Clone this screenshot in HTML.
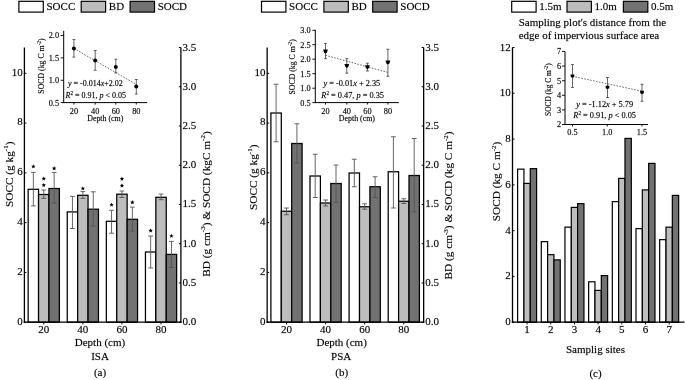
<!DOCTYPE html>
<html><head><meta charset="utf-8"><style>
html,body{margin:0;padding:0;background:#fff;width:685px;height:380px;overflow:hidden}
svg{display:block;filter:grayscale(1) blur(0.35px)}
text{fill:#000;font-family:"Liberation Serif",serif;stroke:#000;stroke-width:0.3px;stroke-opacity:0.45}
</style></head><body>
<svg width="685" height="380" viewBox="0 0 685 380">
<rect width="685" height="380" fill="#fff"/>
<rect x="18.90" y="1.30" width="24.40" height="10.80" fill="#fff" stroke="#000" stroke-width="1.2"/>
<text x="46.50" y="10.10" font-size="11" text-anchor="start" >SOCC</text>
<rect x="81.20" y="1.30" width="24.40" height="10.80" fill="#bdbdbd" stroke="#000" stroke-width="1.2"/>
<text x="108.80" y="10.10" font-size="11" text-anchor="start" >BD</text>
<rect x="130.10" y="1.30" width="24.40" height="10.80" fill="#727272" stroke="#000" stroke-width="1.2"/>
<text x="157.70" y="10.10" font-size="11" text-anchor="start" >SOCD</text>
<rect x="261.50" y="1.30" width="24.40" height="10.80" fill="#fff" stroke="#000" stroke-width="1.2"/>
<text x="289.10" y="10.10" font-size="11" text-anchor="start" >SOCC</text>
<rect x="323.90" y="1.30" width="24.40" height="10.80" fill="#bdbdbd" stroke="#000" stroke-width="1.2"/>
<text x="351.50" y="10.10" font-size="11" text-anchor="start" >BD</text>
<rect x="372.70" y="1.30" width="24.40" height="10.80" fill="#727272" stroke="#000" stroke-width="1.2"/>
<text x="400.30" y="10.10" font-size="11" text-anchor="start" >SOCD</text>
<rect x="28.15" y="189.30" width="10.40" height="132.90" fill="#fff" stroke="#000" stroke-width="1.25"/>
<rect x="38.55" y="194.50" width="10.40" height="127.70" fill="#bdbdbd" stroke="#000" stroke-width="1.25"/>
<rect x="48.95" y="188.50" width="10.40" height="133.70" fill="#727272" stroke="#000" stroke-width="1.25"/>
<rect x="67.25" y="211.90" width="10.40" height="110.30" fill="#fff" stroke="#000" stroke-width="1.25"/>
<rect x="77.65" y="195.30" width="10.40" height="126.90" fill="#bdbdbd" stroke="#000" stroke-width="1.25"/>
<rect x="88.05" y="209.20" width="10.40" height="113.00" fill="#727272" stroke="#000" stroke-width="1.25"/>
<rect x="106.35" y="221.30" width="10.40" height="100.90" fill="#fff" stroke="#000" stroke-width="1.25"/>
<rect x="116.75" y="194.20" width="10.40" height="128.00" fill="#bdbdbd" stroke="#000" stroke-width="1.25"/>
<rect x="127.15" y="219.30" width="10.40" height="102.90" fill="#727272" stroke="#000" stroke-width="1.25"/>
<rect x="145.45" y="252.00" width="10.40" height="70.20" fill="#fff" stroke="#000" stroke-width="1.25"/>
<rect x="155.85" y="197.30" width="10.40" height="124.90" fill="#bdbdbd" stroke="#000" stroke-width="1.25"/>
<rect x="166.25" y="254.40" width="10.40" height="67.80" fill="#727272" stroke="#000" stroke-width="1.25"/>
<line x1="33.35" y1="172.40" x2="33.35" y2="205.90" stroke="#555" stroke-width="0.9" />
<line x1="30.95" y1="172.40" x2="35.75" y2="172.40" stroke="#555" stroke-width="0.9" />
<line x1="30.95" y1="205.90" x2="35.75" y2="205.90" stroke="#555" stroke-width="0.9" />
<line x1="43.75" y1="190.00" x2="43.75" y2="198.40" stroke="#555" stroke-width="0.9" />
<line x1="41.35" y1="190.00" x2="46.15" y2="190.00" stroke="#555" stroke-width="0.9" />
<line x1="41.35" y1="198.40" x2="46.15" y2="198.40" stroke="#555" stroke-width="0.9" />
<line x1="54.15" y1="172.40" x2="54.15" y2="203.20" stroke="#555" stroke-width="0.9" />
<line x1="51.75" y1="172.40" x2="56.55" y2="172.40" stroke="#555" stroke-width="0.9" />
<line x1="51.75" y1="203.20" x2="56.55" y2="203.20" stroke="#555" stroke-width="0.9" />
<line x1="72.45" y1="196.40" x2="72.45" y2="228.50" stroke="#555" stroke-width="0.9" />
<line x1="70.05" y1="196.40" x2="74.85" y2="196.40" stroke="#555" stroke-width="0.9" />
<line x1="70.05" y1="228.50" x2="74.85" y2="228.50" stroke="#555" stroke-width="0.9" />
<line x1="82.85" y1="191.60" x2="82.85" y2="198.40" stroke="#555" stroke-width="0.9" />
<line x1="80.45" y1="191.60" x2="85.25" y2="191.60" stroke="#555" stroke-width="0.9" />
<line x1="80.45" y1="198.40" x2="85.25" y2="198.40" stroke="#555" stroke-width="0.9" />
<line x1="93.25" y1="191.80" x2="93.25" y2="226.10" stroke="#555" stroke-width="0.9" />
<line x1="90.85" y1="191.80" x2="95.65" y2="191.80" stroke="#555" stroke-width="0.9" />
<line x1="90.85" y1="226.10" x2="95.65" y2="226.10" stroke="#555" stroke-width="0.9" />
<line x1="111.55" y1="210.30" x2="111.55" y2="233.20" stroke="#555" stroke-width="0.9" />
<line x1="109.15" y1="210.30" x2="113.95" y2="210.30" stroke="#555" stroke-width="0.9" />
<line x1="109.15" y1="233.20" x2="113.95" y2="233.20" stroke="#555" stroke-width="0.9" />
<line x1="121.95" y1="191.00" x2="121.95" y2="197.50" stroke="#555" stroke-width="0.9" />
<line x1="119.55" y1="191.00" x2="124.35" y2="191.00" stroke="#555" stroke-width="0.9" />
<line x1="119.55" y1="197.50" x2="124.35" y2="197.50" stroke="#555" stroke-width="0.9" />
<line x1="132.35" y1="207.10" x2="132.35" y2="231.00" stroke="#555" stroke-width="0.9" />
<line x1="129.95" y1="207.10" x2="134.75" y2="207.10" stroke="#555" stroke-width="0.9" />
<line x1="129.95" y1="231.00" x2="134.75" y2="231.00" stroke="#555" stroke-width="0.9" />
<line x1="150.65" y1="236.00" x2="150.65" y2="268.00" stroke="#555" stroke-width="0.9" />
<line x1="148.25" y1="236.00" x2="153.05" y2="236.00" stroke="#555" stroke-width="0.9" />
<line x1="148.25" y1="268.00" x2="153.05" y2="268.00" stroke="#555" stroke-width="0.9" />
<line x1="161.05" y1="194.00" x2="161.05" y2="199.70" stroke="#555" stroke-width="0.9" />
<line x1="158.65" y1="194.00" x2="163.45" y2="194.00" stroke="#555" stroke-width="0.9" />
<line x1="158.65" y1="199.70" x2="163.45" y2="199.70" stroke="#555" stroke-width="0.9" />
<line x1="171.45" y1="241.40" x2="171.45" y2="267.50" stroke="#555" stroke-width="0.9" />
<line x1="169.05" y1="241.40" x2="173.85" y2="241.40" stroke="#555" stroke-width="0.9" />
<line x1="169.05" y1="267.50" x2="173.85" y2="267.50" stroke="#555" stroke-width="0.9" />
<polygon points="33.35,164.20 33.96,165.66 35.54,165.79 34.33,166.82 34.70,168.36 33.35,167.53 32.00,168.36 32.37,166.82 31.16,165.79 32.74,165.66" fill="#000"/>
<polygon points="43.75,176.40 44.36,177.86 45.94,177.99 44.73,179.02 45.10,180.56 43.75,179.73 42.40,180.56 42.77,179.02 41.56,177.99 43.14,177.86" fill="#000"/>
<polygon points="43.75,182.90 44.36,184.36 45.94,184.49 44.73,185.52 45.10,187.06 43.75,186.23 42.40,187.06 42.77,185.52 41.56,184.49 43.14,184.36" fill="#000"/>
<polygon points="54.15,166.10 54.76,167.56 56.34,167.69 55.13,168.72 55.50,170.26 54.15,169.44 52.80,170.26 53.17,168.72 51.96,167.69 53.54,167.56" fill="#000"/>
<polygon points="82.85,186.20 83.46,187.66 85.04,187.79 83.83,188.82 84.20,190.36 82.85,189.53 81.50,190.36 81.87,188.82 80.66,187.79 82.24,187.66" fill="#000"/>
<polygon points="111.55,202.50 112.16,203.96 113.74,204.09 112.53,205.12 112.90,206.66 111.55,205.84 110.20,206.66 110.57,205.12 109.36,204.09 110.94,203.96" fill="#000"/>
<polygon points="121.95,176.60 122.56,178.06 124.14,178.19 122.93,179.22 123.30,180.76 121.95,179.94 120.60,180.76 120.97,179.22 119.76,178.19 121.34,178.06" fill="#000"/>
<polygon points="121.95,183.30 122.56,184.76 124.14,184.89 122.93,185.92 123.30,187.46 121.95,186.63 120.60,187.46 120.97,185.92 119.76,184.89 121.34,184.76" fill="#000"/>
<polygon points="132.35,200.10 132.96,201.56 134.54,201.69 133.33,202.72 133.70,204.26 132.35,203.44 131.00,204.26 131.37,202.72 130.16,201.69 131.74,201.56" fill="#000"/>
<polygon points="150.65,228.40 151.26,229.86 152.84,229.99 151.63,231.02 152.00,232.56 150.65,231.73 149.30,232.56 149.67,231.02 148.46,229.99 150.04,229.86" fill="#000"/>
<polygon points="171.45,233.70 172.06,235.16 173.64,235.29 172.43,236.32 172.80,237.86 171.45,237.03 170.10,237.86 170.47,236.32 169.26,235.29 170.84,235.16" fill="#000"/>
<line x1="24.40" y1="47.50" x2="24.40" y2="322.90" stroke="#000" stroke-width="1.3" />
<line x1="23.80" y1="322.20" x2="181.50" y2="322.20" stroke="#000" stroke-width="1.3" />
<line x1="180.90" y1="47.50" x2="180.90" y2="322.90" stroke="#000" stroke-width="1.3" />
<line x1="24.40" y1="322.20" x2="26.40" y2="322.20" stroke="#000" stroke-width="1" />
<text x="22.80" y="325.20" font-size="11" text-anchor="end" >0</text>
<line x1="24.40" y1="272.42" x2="26.40" y2="272.42" stroke="#000" stroke-width="1" />
<text x="22.80" y="275.26" font-size="11" text-anchor="end" >2</text>
<line x1="24.40" y1="222.64" x2="26.40" y2="222.64" stroke="#000" stroke-width="1" />
<text x="22.80" y="225.32" font-size="11" text-anchor="end" >4</text>
<line x1="24.40" y1="172.86" x2="26.40" y2="172.86" stroke="#000" stroke-width="1" />
<text x="22.80" y="175.38" font-size="11" text-anchor="end" >6</text>
<line x1="24.40" y1="123.08" x2="26.40" y2="123.08" stroke="#000" stroke-width="1" />
<text x="22.80" y="125.44" font-size="11" text-anchor="end" >8</text>
<line x1="24.40" y1="73.30" x2="26.40" y2="73.30" stroke="#000" stroke-width="1" />
<text x="22.80" y="75.50" font-size="11" text-anchor="end" >10</text>
<line x1="178.90" y1="322.20" x2="180.90" y2="322.20" stroke="#000" stroke-width="1" />
<text x="182.50" y="325.20" font-size="11" text-anchor="start" >0.0</text>
<line x1="178.90" y1="282.96" x2="180.90" y2="282.96" stroke="#000" stroke-width="1" />
<text x="182.50" y="285.96" font-size="11" text-anchor="start" >0.5</text>
<line x1="178.90" y1="243.71" x2="180.90" y2="243.71" stroke="#000" stroke-width="1" />
<text x="182.50" y="246.71" font-size="11" text-anchor="start" >1.0</text>
<line x1="178.90" y1="204.47" x2="180.90" y2="204.47" stroke="#000" stroke-width="1" />
<text x="182.50" y="207.47" font-size="11" text-anchor="start" >1.5</text>
<line x1="178.90" y1="165.23" x2="180.90" y2="165.23" stroke="#000" stroke-width="1" />
<text x="182.50" y="168.23" font-size="11" text-anchor="start" >2.0</text>
<line x1="178.90" y1="125.99" x2="180.90" y2="125.99" stroke="#000" stroke-width="1" />
<text x="182.50" y="128.99" font-size="11" text-anchor="start" >2.5</text>
<line x1="178.90" y1="86.74" x2="180.90" y2="86.74" stroke="#000" stroke-width="1" />
<text x="182.50" y="89.74" font-size="11" text-anchor="start" >3.0</text>
<line x1="178.90" y1="47.50" x2="180.90" y2="47.50" stroke="#000" stroke-width="1" />
<text x="182.50" y="50.50" font-size="11" text-anchor="start" >3.5</text>
<line x1="43.75" y1="322.20" x2="43.75" y2="324.40" stroke="#000" stroke-width="1" />
<text x="43.75" y="333.20" font-size="11" text-anchor="middle" >20</text>
<line x1="82.85" y1="322.20" x2="82.85" y2="324.40" stroke="#000" stroke-width="1" />
<text x="82.85" y="333.20" font-size="11" text-anchor="middle" >40</text>
<line x1="121.95" y1="322.20" x2="121.95" y2="324.40" stroke="#000" stroke-width="1" />
<text x="121.95" y="333.20" font-size="11" text-anchor="middle" >60</text>
<line x1="161.05" y1="322.20" x2="161.05" y2="324.40" stroke="#000" stroke-width="1" />
<text x="161.05" y="333.20" font-size="11" text-anchor="middle" >80</text>
<text x="100.00" y="346.00" font-size="11" text-anchor="middle" >Depth (cm)</text>
<text x="100.00" y="359.70" font-size="11" text-anchor="middle" >ISA</text>
<text x="100.00" y="376.20" font-size="11" text-anchor="middle" >(a)</text>
<text transform="translate(9.00,174.30) rotate(-90)" x="0" y="3.9" font-size="11.3" text-anchor="middle">SOCC (g kg<tspan dy="-4.5" font-size="7">-1</tspan><tspan dy="4.5">)</tspan></text>
<text transform="translate(205.8,204.0) rotate(-90)" x="0" y="3.9" font-size="11.3" text-anchor="middle">BD (g cm<tspan dy="-4.5" font-size="7">-3</tspan><tspan dy="4.5">) &amp; SOCD (kgC m</tspan><tspan dy="-4.5" font-size="7">-2</tspan><tspan dy="4.5">)</tspan></text>

<line x1="63.70" y1="35.00" x2="63.70" y2="103.10" stroke="#000" stroke-width="1" />
<line x1="63.70" y1="102.60" x2="147.20" y2="102.60" stroke="#000" stroke-width="1" />
<line x1="60.70" y1="102.60" x2="63.70" y2="102.60" stroke="#000" stroke-width="0.9" />
<text x="59.10" y="105.50" font-size="8.3" text-anchor="end" >0.5</text>
<line x1="60.70" y1="80.30" x2="63.70" y2="80.30" stroke="#000" stroke-width="0.9" />
<text x="59.10" y="83.20" font-size="8.3" text-anchor="end" >1.0</text>
<line x1="60.70" y1="57.90" x2="63.70" y2="57.90" stroke="#000" stroke-width="0.9" />
<text x="59.10" y="60.80" font-size="8.3" text-anchor="end" >1.5</text>
<line x1="60.70" y1="35.50" x2="63.70" y2="35.50" stroke="#000" stroke-width="0.9" />
<text x="59.10" y="38.40" font-size="8.3" text-anchor="end" >2.0</text>
<line x1="73.90" y1="102.60" x2="73.90" y2="104.60" stroke="#000" stroke-width="0.9" />
<text x="73.90" y="113.80" font-size="8.3" text-anchor="middle" >20</text>
<line x1="95.20" y1="102.60" x2="95.20" y2="104.60" stroke="#000" stroke-width="0.9" />
<text x="95.20" y="113.80" font-size="8.3" text-anchor="middle" >40</text>
<line x1="115.80" y1="102.60" x2="115.80" y2="104.60" stroke="#000" stroke-width="0.9" />
<text x="115.80" y="113.80" font-size="8.3" text-anchor="middle" >60</text>
<line x1="136.30" y1="102.60" x2="136.30" y2="104.60" stroke="#000" stroke-width="0.9" />
<text x="136.30" y="113.80" font-size="8.3" text-anchor="middle" >80</text>
<text x="105.30" y="120.90" font-size="7.9" text-anchor="middle" >Depth (cm)</text>
<line x1="73.90" y1="48.40" x2="136.30" y2="84.40" stroke="#444" stroke-width="0.8" stroke-dasharray="1.6,1.4"/>
<line x1="73.90" y1="39.50" x2="73.90" y2="57.10" stroke="#333" stroke-width="0.75" />
<line x1="72.45" y1="39.50" x2="75.35" y2="39.50" stroke="#333" stroke-width="0.75" />
<line x1="72.45" y1="57.10" x2="75.35" y2="57.10" stroke="#333" stroke-width="0.75" />
<circle cx="73.90" cy="48.50" r="2.0" fill="#000"/>
<line x1="95.20" y1="50.50" x2="95.20" y2="70.30" stroke="#333" stroke-width="0.75" />
<line x1="93.75" y1="50.50" x2="96.65" y2="50.50" stroke="#333" stroke-width="0.75" />
<line x1="93.75" y1="70.30" x2="96.65" y2="70.30" stroke="#333" stroke-width="0.75" />
<circle cx="95.20" cy="60.60" r="2.0" fill="#000"/>
<line x1="115.80" y1="59.20" x2="115.80" y2="72.90" stroke="#333" stroke-width="0.75" />
<line x1="114.35" y1="59.20" x2="117.25" y2="59.20" stroke="#333" stroke-width="0.75" />
<line x1="114.35" y1="72.90" x2="117.25" y2="72.90" stroke="#333" stroke-width="0.75" />
<circle cx="115.80" cy="66.90" r="2.0" fill="#000"/>
<line x1="136.30" y1="79.50" x2="136.30" y2="94.00" stroke="#333" stroke-width="0.75" />
<line x1="134.85" y1="79.50" x2="137.75" y2="79.50" stroke="#333" stroke-width="0.75" />
<line x1="134.85" y1="94.00" x2="137.75" y2="94.00" stroke="#333" stroke-width="0.75" />
<circle cx="136.30" cy="86.50" r="2.0" fill="#000"/>
<text x="68.0" y="86.2" font-size="8.0"><tspan font-style="italic">y</tspan> = -0.014<tspan font-style="italic">x</tspan>+2.02</text>
<text x="65.5" y="98.3" font-size="8.0"><tspan font-style="italic">R</tspan><tspan dy="-3" font-size="5.2">2</tspan><tspan dy="3"> = 0.91, </tspan><tspan font-style="italic">p</tspan> &lt; 0.05</text>
<text transform="translate(41.50,66.00) rotate(-90)" x="0" y="2.8" font-size="7.8" text-anchor="middle">SOCD (kg C m<tspan dy="-3.2" font-size="5.3">-2</tspan><tspan dy="3.2">)</tspan></text>
<line x1="63.70" y1="30.80" x2="63.70" y2="35.50" stroke="#000" stroke-width="1" />
<rect x="270.90" y="113.00" width="10.40" height="209.20" fill="#fff" stroke="#000" stroke-width="1.25"/>
<rect x="281.30" y="211.25" width="10.40" height="110.95" fill="#bdbdbd" stroke="#000" stroke-width="1.25"/>
<rect x="291.70" y="143.50" width="10.40" height="178.70" fill="#727272" stroke="#000" stroke-width="1.25"/>
<rect x="310.00" y="176.00" width="10.40" height="146.20" fill="#fff" stroke="#000" stroke-width="1.25"/>
<rect x="320.40" y="203.00" width="10.40" height="119.20" fill="#bdbdbd" stroke="#000" stroke-width="1.25"/>
<rect x="330.80" y="183.50" width="10.40" height="138.70" fill="#727272" stroke="#000" stroke-width="1.25"/>
<rect x="349.10" y="173.00" width="10.40" height="149.20" fill="#fff" stroke="#000" stroke-width="1.25"/>
<rect x="359.50" y="206.75" width="10.40" height="115.45" fill="#bdbdbd" stroke="#000" stroke-width="1.25"/>
<rect x="369.90" y="186.75" width="10.40" height="135.45" fill="#727272" stroke="#000" stroke-width="1.25"/>
<rect x="388.20" y="171.75" width="10.40" height="150.45" fill="#fff" stroke="#000" stroke-width="1.25"/>
<rect x="398.60" y="201.25" width="10.40" height="120.95" fill="#bdbdbd" stroke="#000" stroke-width="1.25"/>
<rect x="409.00" y="175.50" width="10.40" height="146.70" fill="#727272" stroke="#000" stroke-width="1.25"/>
<line x1="276.10" y1="84.25" x2="276.10" y2="141.75" stroke="#555" stroke-width="0.9" />
<line x1="273.70" y1="84.25" x2="278.50" y2="84.25" stroke="#555" stroke-width="0.9" />
<line x1="273.70" y1="141.75" x2="278.50" y2="141.75" stroke="#555" stroke-width="0.9" />
<line x1="286.50" y1="208.00" x2="286.50" y2="214.75" stroke="#555" stroke-width="0.9" />
<line x1="284.10" y1="208.00" x2="288.90" y2="208.00" stroke="#555" stroke-width="0.9" />
<line x1="284.10" y1="214.75" x2="288.90" y2="214.75" stroke="#555" stroke-width="0.9" />
<line x1="296.90" y1="123.75" x2="296.90" y2="163.00" stroke="#555" stroke-width="0.9" />
<line x1="294.50" y1="123.75" x2="299.30" y2="123.75" stroke="#555" stroke-width="0.9" />
<line x1="294.50" y1="163.00" x2="299.30" y2="163.00" stroke="#555" stroke-width="0.9" />
<line x1="315.20" y1="154.25" x2="315.20" y2="197.50" stroke="#555" stroke-width="0.9" />
<line x1="312.80" y1="154.25" x2="317.60" y2="154.25" stroke="#555" stroke-width="0.9" />
<line x1="312.80" y1="197.50" x2="317.60" y2="197.50" stroke="#555" stroke-width="0.9" />
<line x1="325.60" y1="200.00" x2="325.60" y2="206.00" stroke="#555" stroke-width="0.9" />
<line x1="323.20" y1="200.00" x2="328.00" y2="200.00" stroke="#555" stroke-width="0.9" />
<line x1="323.20" y1="206.00" x2="328.00" y2="206.00" stroke="#555" stroke-width="0.9" />
<line x1="336.00" y1="165.00" x2="336.00" y2="202.25" stroke="#555" stroke-width="0.9" />
<line x1="333.60" y1="165.00" x2="338.40" y2="165.00" stroke="#555" stroke-width="0.9" />
<line x1="333.60" y1="202.25" x2="338.40" y2="202.25" stroke="#555" stroke-width="0.9" />
<line x1="354.30" y1="159.25" x2="354.30" y2="186.75" stroke="#555" stroke-width="0.9" />
<line x1="351.90" y1="159.25" x2="356.70" y2="159.25" stroke="#555" stroke-width="0.9" />
<line x1="351.90" y1="186.75" x2="356.70" y2="186.75" stroke="#555" stroke-width="0.9" />
<line x1="364.70" y1="203.75" x2="364.70" y2="209.25" stroke="#555" stroke-width="0.9" />
<line x1="362.30" y1="203.75" x2="367.10" y2="203.75" stroke="#555" stroke-width="0.9" />
<line x1="362.30" y1="209.25" x2="367.10" y2="209.25" stroke="#555" stroke-width="0.9" />
<line x1="375.10" y1="176.75" x2="375.10" y2="197.50" stroke="#555" stroke-width="0.9" />
<line x1="372.70" y1="176.75" x2="377.50" y2="176.75" stroke="#555" stroke-width="0.9" />
<line x1="372.70" y1="197.50" x2="377.50" y2="197.50" stroke="#555" stroke-width="0.9" />
<line x1="393.40" y1="136.75" x2="393.40" y2="208.00" stroke="#555" stroke-width="0.9" />
<line x1="391.00" y1="136.75" x2="395.80" y2="136.75" stroke="#555" stroke-width="0.9" />
<line x1="391.00" y1="208.00" x2="395.80" y2="208.00" stroke="#555" stroke-width="0.9" />
<line x1="403.80" y1="198.75" x2="403.80" y2="203.50" stroke="#555" stroke-width="0.9" />
<line x1="401.40" y1="198.75" x2="406.20" y2="198.75" stroke="#555" stroke-width="0.9" />
<line x1="401.40" y1="203.50" x2="406.20" y2="203.50" stroke="#555" stroke-width="0.9" />
<line x1="414.20" y1="138.50" x2="414.20" y2="211.75" stroke="#555" stroke-width="0.9" />
<line x1="411.80" y1="138.50" x2="416.60" y2="138.50" stroke="#555" stroke-width="0.9" />
<line x1="411.80" y1="211.75" x2="416.60" y2="211.75" stroke="#555" stroke-width="0.9" />
<line x1="267.15" y1="47.50" x2="267.15" y2="322.90" stroke="#000" stroke-width="1.3" />
<line x1="266.55" y1="322.20" x2="424.25" y2="322.20" stroke="#000" stroke-width="1.3" />
<line x1="423.65" y1="47.50" x2="423.65" y2="322.90" stroke="#000" stroke-width="1.3" />
<line x1="267.15" y1="322.20" x2="269.15" y2="322.20" stroke="#000" stroke-width="1" />
<text x="265.55" y="325.20" font-size="11" text-anchor="end" >0</text>
<line x1="267.15" y1="272.42" x2="269.15" y2="272.42" stroke="#000" stroke-width="1" />
<text x="265.55" y="275.26" font-size="11" text-anchor="end" >2</text>
<line x1="267.15" y1="222.64" x2="269.15" y2="222.64" stroke="#000" stroke-width="1" />
<text x="265.55" y="225.32" font-size="11" text-anchor="end" >4</text>
<line x1="267.15" y1="172.86" x2="269.15" y2="172.86" stroke="#000" stroke-width="1" />
<text x="265.55" y="175.38" font-size="11" text-anchor="end" >6</text>
<line x1="267.15" y1="123.08" x2="269.15" y2="123.08" stroke="#000" stroke-width="1" />
<text x="265.55" y="125.44" font-size="11" text-anchor="end" >8</text>
<line x1="267.15" y1="73.30" x2="269.15" y2="73.30" stroke="#000" stroke-width="1" />
<text x="265.55" y="75.50" font-size="11" text-anchor="end" >10</text>
<line x1="421.65" y1="322.20" x2="423.65" y2="322.20" stroke="#000" stroke-width="1" />
<text x="425.25" y="325.20" font-size="11" text-anchor="start" >0.0</text>
<line x1="421.65" y1="282.96" x2="423.65" y2="282.96" stroke="#000" stroke-width="1" />
<text x="425.25" y="285.96" font-size="11" text-anchor="start" >0.5</text>
<line x1="421.65" y1="243.71" x2="423.65" y2="243.71" stroke="#000" stroke-width="1" />
<text x="425.25" y="246.71" font-size="11" text-anchor="start" >1.0</text>
<line x1="421.65" y1="204.47" x2="423.65" y2="204.47" stroke="#000" stroke-width="1" />
<text x="425.25" y="207.47" font-size="11" text-anchor="start" >1.5</text>
<line x1="421.65" y1="165.23" x2="423.65" y2="165.23" stroke="#000" stroke-width="1" />
<text x="425.25" y="168.23" font-size="11" text-anchor="start" >2.0</text>
<line x1="421.65" y1="125.99" x2="423.65" y2="125.99" stroke="#000" stroke-width="1" />
<text x="425.25" y="128.99" font-size="11" text-anchor="start" >2.5</text>
<line x1="421.65" y1="86.74" x2="423.65" y2="86.74" stroke="#000" stroke-width="1" />
<text x="425.25" y="89.74" font-size="11" text-anchor="start" >3.0</text>
<line x1="421.65" y1="47.50" x2="423.65" y2="47.50" stroke="#000" stroke-width="1" />
<text x="425.25" y="50.50" font-size="11" text-anchor="start" >3.5</text>
<line x1="286.50" y1="322.20" x2="286.50" y2="324.40" stroke="#000" stroke-width="1" />
<text x="286.50" y="333.20" font-size="11" text-anchor="middle" >20</text>
<line x1="325.60" y1="322.20" x2="325.60" y2="324.40" stroke="#000" stroke-width="1" />
<text x="325.60" y="333.20" font-size="11" text-anchor="middle" >40</text>
<line x1="364.70" y1="322.20" x2="364.70" y2="324.40" stroke="#000" stroke-width="1" />
<text x="364.70" y="333.20" font-size="11" text-anchor="middle" >60</text>
<line x1="403.80" y1="322.20" x2="403.80" y2="324.40" stroke="#000" stroke-width="1" />
<text x="403.80" y="333.20" font-size="11" text-anchor="middle" >80</text>
<text x="341.65" y="346.00" font-size="11" text-anchor="middle" >Depth (cm)</text>
<text x="341.15" y="359.70" font-size="11" text-anchor="middle" >PSA</text>
<text x="341.75" y="376.20" font-size="11" text-anchor="middle" >(b)</text>
<text transform="translate(252.60,177.30) rotate(-90)" x="0" y="3.9" font-size="11.3" text-anchor="middle">SOCC (g kg<tspan dy="-4.5" font-size="7">-1</tspan><tspan dy="4.5">)</tspan></text>
<text transform="translate(448.3,205.5) rotate(-90)" x="0" y="3.9" font-size="11.3" text-anchor="middle">BD (g cm<tspan dy="-4.5" font-size="7">-3</tspan><tspan dy="4.5">) &amp; SOCD (kg C m</tspan><tspan dy="-4.5" font-size="7">-2</tspan><tspan dy="4.5">)</tspan></text>
<line x1="315.30" y1="29.80" x2="315.30" y2="103.10" stroke="#000" stroke-width="1" />
<line x1="315.30" y1="102.60" x2="398.80" y2="102.60" stroke="#000" stroke-width="1" />
<line x1="312.30" y1="102.60" x2="315.30" y2="102.60" stroke="#000" stroke-width="0.9" />
<text x="310.70" y="105.50" font-size="8.3" text-anchor="end" >0.5</text>
<line x1="312.30" y1="88.20" x2="315.30" y2="88.20" stroke="#000" stroke-width="0.9" />
<text x="310.70" y="91.10" font-size="8.3" text-anchor="end" >1.0</text>
<line x1="312.30" y1="73.70" x2="315.30" y2="73.70" stroke="#000" stroke-width="0.9" />
<text x="310.70" y="76.60" font-size="8.3" text-anchor="end" >1.5</text>
<line x1="312.30" y1="59.20" x2="315.30" y2="59.20" stroke="#000" stroke-width="0.9" />
<text x="310.70" y="62.10" font-size="8.3" text-anchor="end" >2.0</text>
<line x1="312.30" y1="44.70" x2="315.30" y2="44.70" stroke="#000" stroke-width="0.9" />
<text x="310.70" y="47.60" font-size="8.3" text-anchor="end" >2.5</text>
<line x1="312.30" y1="30.30" x2="315.30" y2="30.30" stroke="#000" stroke-width="0.9" />
<text x="310.70" y="33.20" font-size="8.3" text-anchor="end" >3.0</text>
<line x1="325.50" y1="102.60" x2="325.50" y2="104.60" stroke="#000" stroke-width="0.9" />
<text x="325.50" y="113.80" font-size="8.3" text-anchor="middle" >20</text>
<line x1="346.80" y1="102.60" x2="346.80" y2="104.60" stroke="#000" stroke-width="0.9" />
<text x="346.80" y="113.80" font-size="8.3" text-anchor="middle" >40</text>
<line x1="367.40" y1="102.60" x2="367.40" y2="104.60" stroke="#000" stroke-width="0.9" />
<text x="367.40" y="113.80" font-size="8.3" text-anchor="middle" >60</text>
<line x1="387.90" y1="102.60" x2="387.90" y2="104.60" stroke="#000" stroke-width="0.9" />
<text x="387.90" y="113.80" font-size="8.3" text-anchor="middle" >80</text>
<text x="356.90" y="120.90" font-size="7.9" text-anchor="middle" >Depth (cm)</text>
<line x1="325.50" y1="55.30" x2="387.90" y2="72.40" stroke="#444" stroke-width="0.8" stroke-dasharray="1.6,1.4"/>
<line x1="325.50" y1="43.40" x2="325.50" y2="58.70" stroke="#333" stroke-width="0.75" />
<line x1="324.05" y1="43.40" x2="326.95" y2="43.40" stroke="#333" stroke-width="0.75" />
<line x1="324.05" y1="58.70" x2="326.95" y2="58.70" stroke="#333" stroke-width="0.75" />
<path d="M323.10,49.50 L327.90,49.50 L327.00,52.30 L325.50,53.40 L324.00,52.30 Z" fill="#000"/>
<line x1="346.80" y1="58.70" x2="346.80" y2="73.20" stroke="#333" stroke-width="0.75" />
<line x1="345.35" y1="58.70" x2="348.25" y2="58.70" stroke="#333" stroke-width="0.75" />
<line x1="345.35" y1="73.20" x2="348.25" y2="73.20" stroke="#333" stroke-width="0.75" />
<path d="M344.40,64.00 L349.20,64.00 L348.30,66.80 L346.80,67.90 L345.30,66.80 Z" fill="#000"/>
<line x1="367.40" y1="63.20" x2="367.40" y2="71.00" stroke="#333" stroke-width="0.75" />
<line x1="365.95" y1="63.20" x2="368.85" y2="63.20" stroke="#333" stroke-width="0.75" />
<line x1="365.95" y1="71.00" x2="368.85" y2="71.00" stroke="#333" stroke-width="0.75" />
<path d="M365.00,65.30 L369.80,65.30 L368.90,68.10 L367.40,69.20 L365.90,68.10 Z" fill="#000"/>
<line x1="387.90" y1="49.20" x2="387.90" y2="76.30" stroke="#333" stroke-width="0.75" />
<line x1="386.45" y1="49.20" x2="389.35" y2="49.20" stroke="#333" stroke-width="0.75" />
<line x1="386.45" y1="76.30" x2="389.35" y2="76.30" stroke="#333" stroke-width="0.75" />
<path d="M385.50,60.60 L390.30,60.60 L389.40,63.40 L387.90,64.50 L386.40,63.40 Z" fill="#000"/>
<text x="323.4" y="85.7" font-size="8.3"><tspan font-style="italic">y</tspan> = -0.01<tspan font-style="italic">x</tspan> + 2.35</text>
<text x="321.3" y="98.3" font-size="8.3"><tspan font-style="italic">R</tspan><tspan dy="-3" font-size="5.2">2</tspan><tspan dy="3"> = 0.47, </tspan><tspan font-style="italic">p</tspan> = 0.35</text>
<text transform="translate(292.00,66.80) rotate(-90)" x="0" y="2.8" font-size="7.8" text-anchor="middle">SOCD (kg C m<tspan dy="-3.2" font-size="5.3">-2</tspan><tspan dy="3.2">)</tspan></text>
<rect x="511.70" y="1.30" width="24.40" height="10.80" fill="#fff" stroke="#000" stroke-width="1.2"/>
<text x="539.30" y="10.10" font-size="11" text-anchor="start" >1.5m</text>
<rect x="567.00" y="1.30" width="24.40" height="10.80" fill="#bdbdbd" stroke="#000" stroke-width="1.2"/>
<text x="594.60" y="10.10" font-size="11" text-anchor="start" >1.0m</text>
<rect x="623.40" y="1.30" width="24.40" height="10.80" fill="#727272" stroke="#000" stroke-width="1.2"/>
<text x="651.00" y="10.10" font-size="11" text-anchor="start" >0.5m</text>
<text x="518.70" y="26.20" font-size="11" text-anchor="start" >Sampling plot's distance from the</text>
<text x="518.70" y="38.80" font-size="11" text-anchor="start" >edge of impervious surface area</text>
<rect x="517.60" y="169.15" width="6.33" height="153.05" fill="#fff" stroke="#000" stroke-width="1.2"/>
<rect x="523.93" y="183.40" width="6.33" height="138.80" fill="#bdbdbd" stroke="#000" stroke-width="1.2"/>
<rect x="530.26" y="168.65" width="6.33" height="153.55" fill="#727272" stroke="#000" stroke-width="1.2"/>
<rect x="541.28" y="241.65" width="6.33" height="80.55" fill="#fff" stroke="#000" stroke-width="1.2"/>
<rect x="547.61" y="254.65" width="6.33" height="67.55" fill="#bdbdbd" stroke="#000" stroke-width="1.2"/>
<rect x="553.94" y="259.90" width="6.33" height="62.30" fill="#727272" stroke="#000" stroke-width="1.2"/>
<rect x="564.96" y="227.15" width="6.33" height="95.05" fill="#fff" stroke="#000" stroke-width="1.2"/>
<rect x="571.29" y="207.40" width="6.33" height="114.80" fill="#bdbdbd" stroke="#000" stroke-width="1.2"/>
<rect x="577.62" y="203.65" width="6.33" height="118.55" fill="#727272" stroke="#000" stroke-width="1.2"/>
<rect x="588.64" y="281.80" width="6.33" height="40.40" fill="#fff" stroke="#000" stroke-width="1.2"/>
<rect x="594.97" y="290.40" width="6.33" height="31.80" fill="#bdbdbd" stroke="#000" stroke-width="1.2"/>
<rect x="601.30" y="275.60" width="6.33" height="46.60" fill="#727272" stroke="#000" stroke-width="1.2"/>
<rect x="612.32" y="201.65" width="6.33" height="120.55" fill="#fff" stroke="#000" stroke-width="1.2"/>
<rect x="618.65" y="178.40" width="6.33" height="143.80" fill="#bdbdbd" stroke="#000" stroke-width="1.2"/>
<rect x="624.98" y="138.40" width="6.33" height="183.80" fill="#727272" stroke="#000" stroke-width="1.2"/>
<rect x="636.00" y="228.65" width="6.33" height="93.55" fill="#fff" stroke="#000" stroke-width="1.2"/>
<rect x="642.33" y="189.90" width="6.33" height="132.30" fill="#bdbdbd" stroke="#000" stroke-width="1.2"/>
<rect x="648.66" y="163.40" width="6.33" height="158.80" fill="#727272" stroke="#000" stroke-width="1.2"/>
<rect x="659.68" y="239.65" width="6.33" height="82.55" fill="#fff" stroke="#000" stroke-width="1.2"/>
<rect x="666.01" y="227.15" width="6.33" height="95.05" fill="#bdbdbd" stroke="#000" stroke-width="1.2"/>
<rect x="672.34" y="195.40" width="6.33" height="126.80" fill="#727272" stroke="#000" stroke-width="1.2"/>
<line x1="512.50" y1="47.50" x2="512.50" y2="322.90" stroke="#000" stroke-width="1.3" />
<line x1="511.90" y1="322.20" x2="684.50" y2="322.20" stroke="#000" stroke-width="1.3" />
<line x1="512.50" y1="322.20" x2="514.50" y2="322.20" stroke="#000" stroke-width="1" />
<text x="510.70" y="325.20" font-size="11" text-anchor="end" >0</text>
<line x1="512.50" y1="276.42" x2="514.50" y2="276.42" stroke="#000" stroke-width="1" />
<text x="510.70" y="279.42" font-size="11" text-anchor="end" >2</text>
<line x1="512.50" y1="230.63" x2="514.50" y2="230.63" stroke="#000" stroke-width="1" />
<text x="510.70" y="233.63" font-size="11" text-anchor="end" >4</text>
<line x1="512.50" y1="184.85" x2="514.50" y2="184.85" stroke="#000" stroke-width="1" />
<text x="510.70" y="187.85" font-size="11" text-anchor="end" >6</text>
<line x1="512.50" y1="139.07" x2="514.50" y2="139.07" stroke="#000" stroke-width="1" />
<text x="510.70" y="142.07" font-size="11" text-anchor="end" >8</text>
<line x1="512.50" y1="93.28" x2="514.50" y2="93.28" stroke="#000" stroke-width="1" />
<text x="510.70" y="96.28" font-size="11" text-anchor="end" >10</text>
<line x1="512.50" y1="47.50" x2="514.50" y2="47.50" stroke="#000" stroke-width="1" />
<text x="510.70" y="50.50" font-size="11" text-anchor="end" >12</text>
<line x1="527.10" y1="322.20" x2="527.10" y2="324.40" stroke="#000" stroke-width="1" />
<text x="527.10" y="332.50" font-size="11" text-anchor="middle" >1</text>
<line x1="550.77" y1="322.20" x2="550.77" y2="324.40" stroke="#000" stroke-width="1" />
<text x="550.77" y="332.50" font-size="11" text-anchor="middle" >2</text>
<line x1="574.46" y1="322.20" x2="574.46" y2="324.40" stroke="#000" stroke-width="1" />
<text x="574.46" y="332.50" font-size="11" text-anchor="middle" >3</text>
<line x1="598.13" y1="322.20" x2="598.13" y2="324.40" stroke="#000" stroke-width="1" />
<text x="598.13" y="332.50" font-size="11" text-anchor="middle" >4</text>
<line x1="621.82" y1="322.20" x2="621.82" y2="324.40" stroke="#000" stroke-width="1" />
<text x="621.82" y="332.50" font-size="11" text-anchor="middle" >5</text>
<line x1="645.50" y1="322.20" x2="645.50" y2="324.40" stroke="#000" stroke-width="1" />
<text x="645.50" y="332.50" font-size="11" text-anchor="middle" >6</text>
<line x1="669.18" y1="322.20" x2="669.18" y2="324.40" stroke="#000" stroke-width="1" />
<text x="669.18" y="332.50" font-size="11" text-anchor="middle" >7</text>
<text x="595.50" y="352.90" font-size="11" text-anchor="middle" >Samplig sites</text>
<text x="595.50" y="377.00" font-size="11" text-anchor="middle" >(c)</text>
<text transform="translate(496.3,181.5) rotate(-90)" x="0" y="3.9" font-size="11.3" text-anchor="middle">SOCD (kg C m<tspan dy="-4.5" font-size="7">-2</tspan><tspan dy="4.5">)</tspan></text>
<line x1="565.00" y1="51.25" x2="565.00" y2="125.00" stroke="#000" stroke-width="1" />
<line x1="565.00" y1="124.50" x2="648.00" y2="124.50" stroke="#000" stroke-width="1" />
<line x1="562.00" y1="124.50" x2="565.00" y2="124.50" stroke="#000" stroke-width="0.9" />
<text x="561.20" y="127.40" font-size="8.3" text-anchor="end" >2</text>
<line x1="562.00" y1="109.90" x2="565.00" y2="109.90" stroke="#000" stroke-width="0.9" />
<text x="561.20" y="112.80" font-size="8.3" text-anchor="end" >3</text>
<line x1="562.00" y1="95.30" x2="565.00" y2="95.30" stroke="#000" stroke-width="0.9" />
<text x="561.20" y="98.20" font-size="8.3" text-anchor="end" >4</text>
<line x1="562.00" y1="80.70" x2="565.00" y2="80.70" stroke="#000" stroke-width="0.9" />
<text x="561.20" y="83.60" font-size="8.3" text-anchor="end" >5</text>
<line x1="562.00" y1="66.10" x2="565.00" y2="66.10" stroke="#000" stroke-width="0.9" />
<text x="561.20" y="69.00" font-size="8.3" text-anchor="end" >6</text>
<line x1="562.00" y1="51.50" x2="565.00" y2="51.50" stroke="#000" stroke-width="0.9" />
<text x="561.20" y="54.40" font-size="8.3" text-anchor="end" >7</text>
<line x1="572.50" y1="124.50" x2="572.50" y2="126.50" stroke="#000" stroke-width="0.9" />
<text x="572.50" y="135.40" font-size="8.3" text-anchor="middle" >0.5</text>
<line x1="607.30" y1="124.50" x2="607.30" y2="126.50" stroke="#000" stroke-width="0.9" />
<text x="607.30" y="135.40" font-size="8.3" text-anchor="middle" >1.0</text>
<line x1="642.00" y1="124.50" x2="642.00" y2="126.50" stroke="#000" stroke-width="0.9" />
<text x="642.00" y="135.40" font-size="8.3" text-anchor="middle" >1.5</text>
<line x1="572.50" y1="76.25" x2="642.00" y2="91.25" stroke="#444" stroke-width="0.8" stroke-dasharray="1.6,1.4"/>
<line x1="572.50" y1="64.50" x2="572.50" y2="87.50" stroke="#333" stroke-width="0.75" />
<line x1="571.05" y1="64.50" x2="573.95" y2="64.50" stroke="#333" stroke-width="0.75" />
<line x1="571.05" y1="87.50" x2="573.95" y2="87.50" stroke="#333" stroke-width="0.75" />
<path d="M570.55,74.55 L574.45,74.55 L574.20,77.05 Q572.50,78.35 570.80,77.05 Z" fill="#000"/>
<line x1="607.50" y1="77.50" x2="607.50" y2="97.50" stroke="#333" stroke-width="0.75" />
<line x1="606.05" y1="77.50" x2="608.95" y2="77.50" stroke="#333" stroke-width="0.75" />
<line x1="606.05" y1="97.50" x2="608.95" y2="97.50" stroke="#333" stroke-width="0.75" />
<path d="M605.55,85.80 L609.45,85.80 L609.20,88.30 Q607.50,89.60 605.80,88.30 Z" fill="#000"/>
<line x1="642.00" y1="84.25" x2="642.00" y2="101.25" stroke="#333" stroke-width="0.75" />
<line x1="640.55" y1="84.25" x2="643.45" y2="84.25" stroke="#333" stroke-width="0.75" />
<line x1="640.55" y1="101.25" x2="643.45" y2="101.25" stroke="#333" stroke-width="0.75" />
<path d="M640.05,90.80 L643.95,90.80 L643.70,93.30 Q642.00,94.60 640.30,93.30 Z" fill="#000"/>
<text x="576.3" y="106.6" font-size="8.3"><tspan font-style="italic">y</tspan> = -1.12<tspan font-style="italic">x</tspan> + 5.79</text>
<text x="573.3" y="118.3" font-size="8.3"><tspan font-style="italic">R</tspan><tspan dy="-3" font-size="5.2">2</tspan><tspan dy="3"> = 0.91, </tspan><tspan font-style="italic">p</tspan> &lt; 0.05</text>
<text transform="translate(548.6,89.6) rotate(-90)" x="0" y="2.8" font-size="7.4" text-anchor="middle">SOCD (kg C m<tspan dy="-3.2" font-size="5.3">-2</tspan><tspan dy="3.2">)</tspan></text>
</svg>
</body></html>
